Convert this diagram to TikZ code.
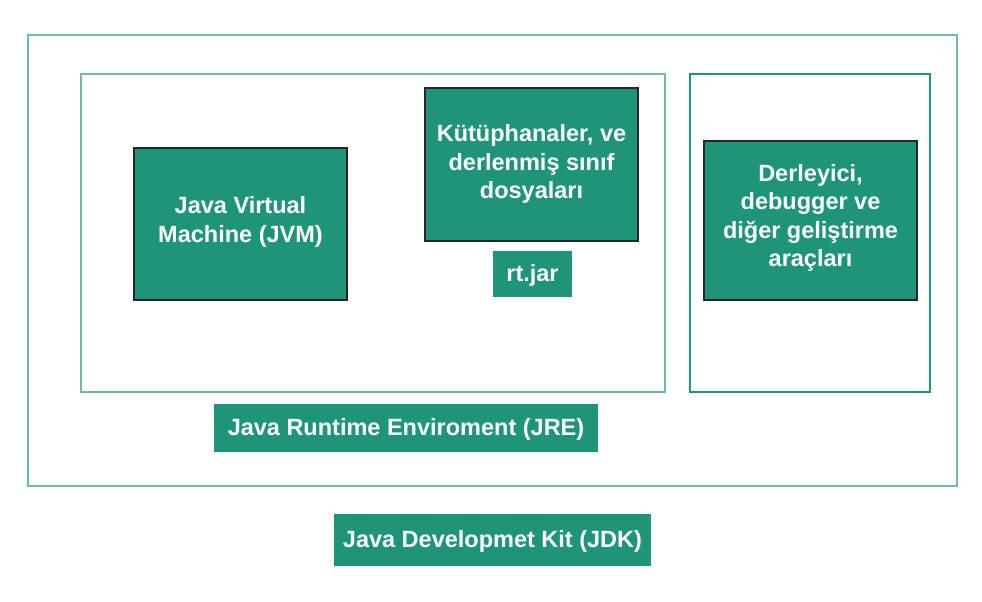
\documentclass[tikz,border=0pt]{standalone}
\usepackage{fontspec}
\setmainfont{Liberation Sans}
\definecolor{fillg}{HTML}{1E9478}
\definecolor{lightb}{HTML}{6DBCA9}
\begin{document}
\begin{tikzpicture}[x=1pt,y=-1pt,
  frame/.style={draw=lightb,line width=2pt},
  darkframe/.style={draw=fillg,line width=2pt},
  blk/.style={fill=fillg,draw=black!85,line width=2pt},
  lab/.style={fill=fillg},
  txt/.style={text=white,font=\bfseries\fontsize{23.5}{28.5}\selectfont,align=center}]
\useasboundingbox (0,0) rectangle (982,602);
\draw[frame] (28,35) rectangle (957,486);
\draw[frame] (81,74) rectangle (665,392);
\draw[darkframe] (690,74) rectangle (930,392);
\path[blk] (134,148) rectangle (347,300);
\node[txt] (jvm) at (240.5,222) {Java Virtual\\Machine (JVM)};
\path[blk] (425,88) rectangle (638,241);
\node[txt] (lib) at (531.5,164) {Kütüphanaler, ve\\derlenmiş sınıf\\dosyaları};
\path[lab] (493,251) rectangle (572,297);
\node[txt] (rt) at (532.5,275) {rt.jar};
\path[blk] (704,141) rectangle (917,300);
\node[txt] (tools) at (810.5,218) {Derleyici,\\debugger ve\\diğer geliştirme\\araçları};
\path[lab] (214,404) rectangle (598,452);
\node[txt] (jre) at (406,429) {Java Runtime Enviroment (JRE)};
\path[lab] (334,514) rectangle (651,566);
\node[txt] (jdk) at (492.5,541) {Java Developmet Kit (JDK)};
\end{tikzpicture}
\end{document}
